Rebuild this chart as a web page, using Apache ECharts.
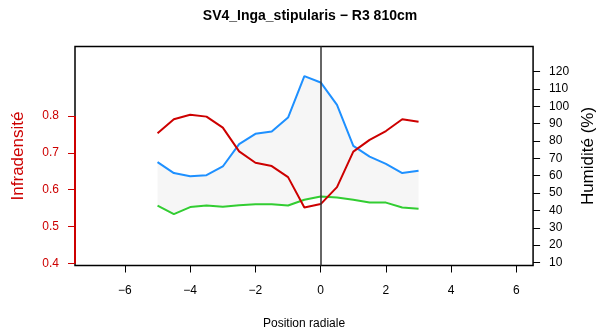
<!DOCTYPE html>
<html>
<head>
<meta charset="utf-8">
<script src="https://cdn.jsdelivr.net/npm/echarts@6/dist/echarts.min.js"></script>
<style>html,body{margin:0;padding:0;background:#fff}#c{width:605px;height:336px}</style>
</head>
<body>
<div id="c"></div>
<script>
var positions = [-5,-4.5,-4,-3.5,-3,-2.5,-2,-1.5,-1,-0.5,0,0.5,1,1.5,2,2.5,3];
var infradensite = [0.753,0.791,0.803,0.798,0.768,0.704,0.673,0.664,0.634,0.552,0.561,0.607,0.703,0.735,0.759,0.791,0.784];
var humiditeHaute = [67.8,61.5,59.7,60.3,65.3,78.2,84.1,85.4,93.5,117.3,113.7,100.8,77.2,71.0,66.8,61.5,62.8];
var humiditeBasse = [42.8,37.9,41.9,42.8,42.1,43.0,43.6,43.6,42.8,46.1,48.0,47.4,46.1,44.5,44.5,41.7,40.9];
var xTicks = [-6,-4,-2,0,2,4,6];
var leftTicks = [0.4,0.5,0.6,0.7,0.8];
var rightTicks = [10,20,30,40,50,60,70,80,90,100,110,120];

var XMIN = -7.53, XMAX = 6.51;
function pairs(xs, ys){ return xs.map(function(x,i){ return [x, ys[i]]; }); }
var bandData = positions.map(function(x,i){ return [x, humiditeBasse[i], humiditeHaute[i]]; });
var FONT = 'Liberation Sans, Arial, Helvetica, sans-serif';
var RED = '#CD0000';

var chart = echarts.init(document.getElementById('c'), null, {renderer:'canvas'});
chart.setOption({
  animation: false,
  backgroundColor: '#ffffff',
  title: {
    text: 'SV4_Inga_stipularis \u2212 R3 810cm',
    left: 305, top: 4, textAlign: 'center',
    textStyle: {fontFamily: FONT, fontSize: 14, fontWeight: 'bold', color: '#000'}
  },
  grid: {left: 75, right: 68.5, top: 46.5, bottom: 70.5, show: true, borderColor: '#000', borderWidth: 1.5, backgroundColor: 'transparent'},
  xAxis: {
    type: 'value', min: XMIN, max: XMAX,
    name: 'Position radiale', nameLocation: 'middle', nameGap: 52,
    nameTextStyle: {fontFamily: FONT, fontSize: 12, color: '#000'},
    axisLine: {show: false, onZero: false},
    axisTick: {show: true, length: 7, lineStyle: {color: '#000', width: 1}, customValues: xTicks},
    axisLabel: {fontFamily: FONT, fontSize: 12, color: '#000', margin: 19, customValues: xTicks,
      formatter: function(v){ return v < 0 ? '\u2212' + Math.abs(v) : String(v); }},
    splitLine: {show: false}
  },
  yAxis: [{
    type: 'value', min: 0.3946, max: 0.988, position: 'left',
    name: 'Infradensit\u00e9', nameLocation: 'middle', nameGap: 48, nameRotate: 90,
    nameTextStyle: {fontFamily: FONT, fontSize: 17, color: RED},
    axisLine: {show: false, onZero: false},
    axisTick: {show: true, length: 7, lineStyle: {color: RED, width: 1}, customValues: leftTicks},
    axisLabel: {fontFamily: FONT, fontSize: 12, color: RED, margin: 16, customValues: leftTicks,
      formatter: function(v){ return v.toFixed(1); }},
    splitLine: {show: false}
  }, {
    type: 'value', min: 8.27, max: 134.4, position: 'right',
    name: 'Humidit\u00e9 (%)', nameLocation: 'middle', nameGap: 40, nameRotate: 90,
    nameTextStyle: {fontFamily: FONT, fontSize: 17, color: '#000'},
    axisLine: {show: false, onZero: false},
    axisTick: {show: true, length: 7, lineStyle: {color: '#000', width: 1}, customValues: rightTicks},
    axisLabel: {fontFamily: FONT, fontSize: 12, color: '#000', margin: 16, customValues: rightTicks},
    splitLine: {show: false}
  }],
  series: [
    {type: 'custom', yAxisIndex: 1, data: bandData, silent: true, z: 1,
     encode: {x: 0, y: [1, 2]},
     renderItem: function(params, api){
       if (params.dataIndex !== 0) return null;
       var top = [], bot = [];
       for (var i = 0; i < bandData.length; i++) {
         top.push(api.coord([bandData[i][0], bandData[i][2]]));
         bot.unshift(api.coord([bandData[i][0], bandData[i][1]]));
       }
       return {type: 'polygon', shape: {points: top.concat(bot)}, style: {fill: '#f6f6f6', stroke: null}};
     }},
    {type: 'line', yAxisIndex: 1, data: pairs(positions, humiditeHaute), symbol: 'none',
     lineStyle: {color: '#1E90FF', width: 2}, z: 3,
     markLine: {silent: true, symbol: ['none','none'], label: {show: false}, animation: false,
       lineStyle: {color: '#333', width: 1.5, type: 'solid'},
       data: [{xAxis: 0}]}},
    {type: 'line', yAxisIndex: 1, data: pairs(positions, humiditeBasse), symbol: 'none',
     lineStyle: {color: '#32CD32', width: 2}, z: 3},
    {type: 'line', yAxisIndex: 0, data: pairs(positions, infradensite), symbol: 'none',
     lineStyle: {color: RED, width: 2}, z: 4,
     markLine: {silent: true, symbol: ['none','none'], label: {show: false}, animation: false,
       lineStyle: {color: RED, width: 2, type: 'solid'},
       data: [[{coord: [XMIN, leftTicks[0]]}, {coord: [XMIN, leftTicks[leftTicks.length-1]]}]]}}
  ]
});
</script>
</body>
</html>
